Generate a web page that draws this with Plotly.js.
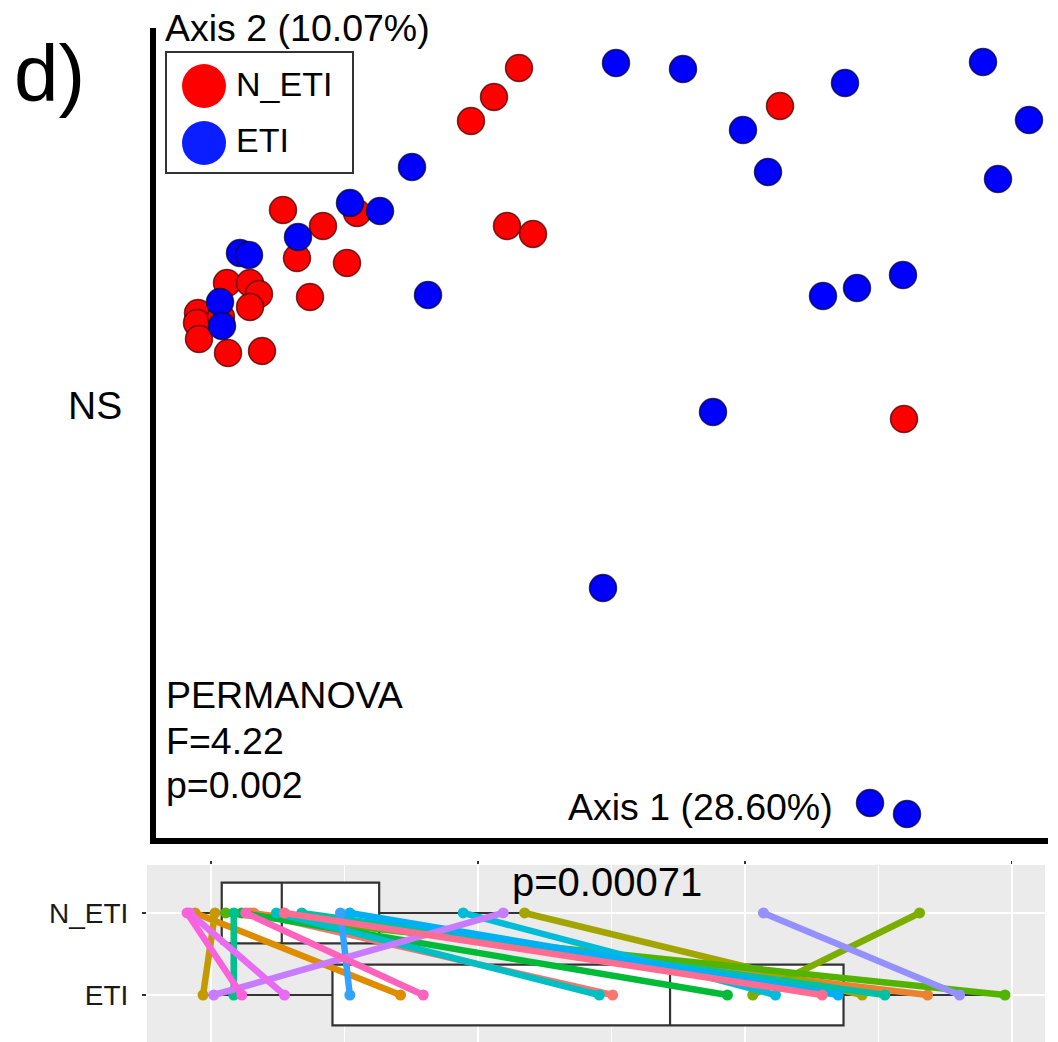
<!DOCTYPE html>
<html>
<head>
<meta charset="utf-8">
<script src="https://cdn.plot.ly/plotly-3.0.1.min.js"></script>
<style>html,body{margin:0;padding:0;background:#fff;}#chart{width:1058px;height:1042px;}</style>
</head>
<body>
<div id="chart"></div>
<script>
// ---- Ordination (PCoA) data ----
const groups = ["N_ETI", "ETI"];
const groupColors = ["#FF0000", "#0000FF"];
const netiAxis1 = [0.064, 0.039, 0.016, 0.325, -0.172, -0.132, -0.098, 0.052, 0.078, -0.158, -0.108, -0.228, -0.205, -0.196, -0.205, -0.145, -0.257, -0.258, -0.256, -0.234, -0.227, -0.193, 0.449];
const netiAxis2 = [0.366, 0.337, 0.313, 0.328, 0.224, 0.208, 0.221, 0.208, 0.200, 0.176, 0.171, 0.151, 0.151, 0.140, 0.127, 0.137, 0.121, 0.111, 0.095, 0.117, 0.081, 0.083, 0.015];
const etiAxis1 = [0.161, 0.228, 0.288, 0.313, 0.390, 0.528, 0.574, 0.543, -0.043, -0.105, -0.075, -0.157, -0.215, -0.206, -0.027, -0.235, -0.233, 0.368, 0.402, 0.448, 0.258, 0.148, 0.415, 0.452];
const etiAxis2 = [0.371, 0.365, 0.304, 0.262, 0.351, 0.372, 0.314, 0.255, 0.267, 0.231, 0.223, 0.197, 0.181, 0.179, 0.139, 0.132, 0.108, 0.138, 0.146, 0.159, 0.022, -0.154, -0.369, -0.380];

// ---- Paired distance data (per subject) ----
const pairedNETI = [0.232, 0.229, 0.188, 0.203, 0.435, 0.731, 0.211, 0.223, 0.217, 0.249, 0.268, 0.389, 0.304, 0.297, 0.614, 0.419, 0.184, 0.182, 0.226, 0.255];
const pairedETI  = [0.501, 0.737, 0.342, 0.194, 0.688, 0.606, 0.795, 0.587, 0.217, 0.491, 0.705, 0.623, 0.670, 0.304, 0.761, 0.202, 0.255, 0.223, 0.359, 0.658];
const subjectColors = ["#F8766D", "#EA8331", "#DE8C00", "#C49A00", "#A3A500", "#7CAE00", "#53B400", "#00BA38", "#00C08B", "#00BFC4", "#00C1A7", "#00BCD8", "#00B0F6", "#35A2FF", "#9590FF", "#C77CFF", "#E76BF3", "#FA62DB", "#FF62BC", "#FF6C91"];

// ---- Box summary (from the picture) ----
const boxGroups = ["N_ETI", "ETI"];
const boxQ1 = [0.208, 0.291];
const boxMedian = [0.253, 0.544];
const boxQ3 = [0.326, 0.674];
const boxLower = [0.182, 0.194];
const boxUpper = [0.435, 0.797];

const W = 1058, H = 1042;
const px = v => v / W;
const py = v => 1 - v / H;

const traces = [];
traces.push({
  type: "scatter", mode: "markers", x: netiAxis1, y: netiAxis2, name: groups[0],
  marker: {color: groupColors[0], size: 27, line: {color: "rgba(60,0,0,0.75)", width: 1.5}},
  showlegend: false, hoverinfo: "skip", xaxis: "x", yaxis: "y"
});
traces.push({
  type: "scatter", mode: "markers", x: etiAxis1, y: etiAxis2, name: groups[1],
  marker: {color: groupColors[1], size: 27, line: {color: "rgba(0,0,50,0.75)", width: 1.5}},
  showlegend: false, hoverinfo: "skip", xaxis: "x", yaxis: "y"
});
traces.push({
  type: "box", orientation: "h", y: boxGroups,
  q1: boxQ1, median: boxMedian, q3: boxQ3, lowerfence: boxLower, upperfence: boxUpper,
  fillcolor: "#FFFFFF", line: {color: "#333333", width: 2.2}, width: 0.74, whiskerwidth: 0,
  boxpoints: false, showlegend: false, hoverinfo: "skip", xaxis: "x2", yaxis: "y2"
});
for (let i = 0; i < pairedNETI.length; i++) {
  traces.push({
    type: "scatter", mode: "lines+markers",
    x: [pairedNETI[i], pairedETI[i]], y: ["N_ETI", "ETI"],
    line: {color: subjectColors[i], width: 6.5},
    marker: {color: subjectColors[i], size: 11},
    showlegend: false, hoverinfo: "skip", xaxis: "x2", yaxis: "y2"
  });
}

const F = "Liberation Sans, Arial, sans-serif";
const ann = (text, x, y, size, xanchor) => ({
  text: text, x: px(x), y: py(y), xref: "paper", yref: "paper",
  xanchor: xanchor || "left", yanchor: "middle", showarrow: false,
  font: {family: F, size: size, color: "#000"}
});

const layout = {
  width: W, height: H,
  margin: {l: 0, r: 0, t: 0, b: 0},
  paper_bgcolor: "#FFFFFF", plot_bgcolor: "rgba(0,0,0,0)",
  showlegend: false,
  font: {family: F},
  xaxis: {domain: [px(156), px(1048)], range: [-0.299, 0.593], anchor: "y",
    showline: true, linecolor: "#000", linewidth: 6, showgrid: false, zeroline: false,
    showticklabels: false, ticks: ""},
  yaxis: {domain: [py(838), py(28)], range: [-0.404, 0.406], anchor: "x",
    showline: true, linecolor: "#000", linewidth: 6, showgrid: false, zeroline: false,
    showticklabels: false, ticks: ""},
  xaxis2: {domain: [px(147), px(1045)], range: [0.152, 0.825], anchor: "y2", side: "top",
    tick0: 0, dtick: 0.2, ticks: "outside", ticklen: 3, tickwidth: 1.5, tickcolor: "#333",
    showticklabels: false, showgrid: true, gridcolor: "#FFFFFF", gridwidth: 2, zeroline: false,
    minor: {dtick: 0.1, showgrid: true, gridcolor: "#FFFFFF", gridwidth: 1, ticks: ""}},
  yaxis2: {domain: [0, py(865)], range: [-0.573, 1.585], anchor: "x2", type: "category",
    categoryorder: "array", categoryarray: ["ETI", "N_ETI"],
    ticks: "outside", ticklen: 4, tickwidth: 1.5, tickcolor: "#333", ticklabelstandoff: 8,
    tickfont: {family: F, size: 28, color: "#1a1a1a"},
    showgrid: true, gridcolor: "#FFFFFF", gridwidth: 2, zeroline: false},
  shapes: [
    {type: "rect", xref: "x2 domain", yref: "y2 domain", x0: 0, x1: 1, y0: 0, y1: 1,
     fillcolor: "#EBEBEB", line: {width: 0}, layer: "below"},
    {type: "rect", xref: "paper", yref: "paper", x0: px(166), x1: px(353), y0: py(52), y1: py(173),
     fillcolor: "#FFFFFF", line: {color: "#333333", width: 2}},
    {type: "circle", xref: "paper", yref: "paper", x0: px(182), x1: px(226), y0: py(64), y1: py(108),
     fillcolor: groupColors[0], line: {width: 0}},
    {type: "circle", xref: "paper", yref: "paper", x0: px(182), x1: px(226), y0: py(121), y1: py(165),
     fillcolor: "#0A1EFF", line: {width: 0}}
  ],
  annotations: [
    ann("d)", 12, 73, 80),
    ann("Axis 2 (10.07%)", 163, 28, 37.5),
    ann("NS", 95, 405, 39, "center"),
    ann("PERMANOVA", 164, 695, 37.5),
    ann("F=4.22", 164, 741, 37.5),
    ann("p=0.002", 164, 785, 37.5),
    ann("Axis 1 (28.60%)", 700, 807, 37.5, "center"),
    ann(groups[0], 234, 84, 34),
    ann(groups[1], 234, 140, 34),
    ann("p=0.00071", 607, 882, 40, "center")
  ]
};

Plotly.newPlot("chart", traces, layout, {displayModeBar: false, staticPlot: true});
</script>
</body>
</html>
